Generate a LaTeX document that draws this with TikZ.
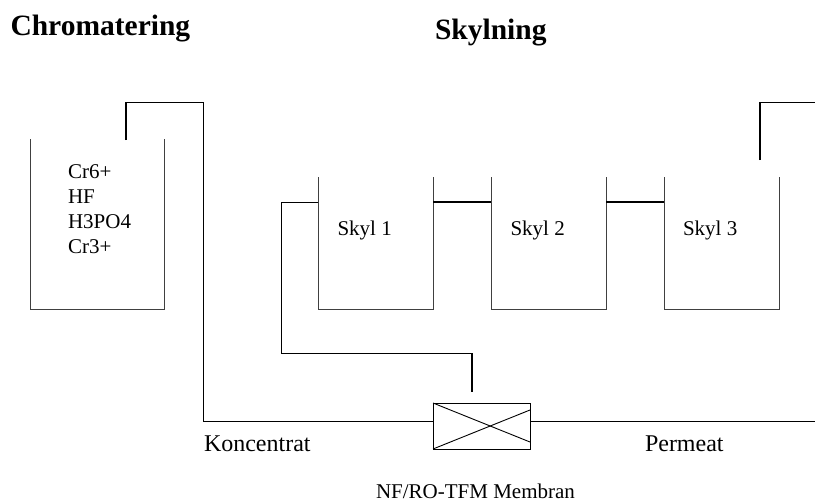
\documentclass[tikz,border=0pt]{standalone}
\usepackage{fontspec}
\setmainfont{Liberation Serif}
\tikzset{
  tank/.style={line width=0.9pt,draw=black!75},
  pipe/.style={line width=0.9pt,draw=black},
  thick pipe/.style={line width=1.5pt,draw=black},
  lbl/.style={anchor=base west,inner sep=0pt,outer sep=0pt},
  body/.style={lbl,font=\fontsize{21}{25}\selectfont},
  koncentrat/.style={lbl,font=\fontsize{24}{28}\selectfont},
  title/.style={lbl,font=\fontsize{29.5}{34}\selectfont\bfseries},
}
\begin{document}
\begin{tikzpicture}[x=1pt,y=-1pt]
\useasboundingbox (0,0) rectangle (815,501);
% tanks
\coordinate (t0tl) at (30,139); \coordinate (t0bl) at (30,309);
\coordinate (t0br) at (164,309); \coordinate (t0tr) at (164,139);
\coordinate (t1tl) at (318,177); \coordinate (t1bl) at (318,309);
\coordinate (t1br) at (433,309); \coordinate (t1tr) at (433,177);
\coordinate (t2tl) at (491,177); \coordinate (t2bl) at (491,309);
\coordinate (t2br) at (606,309); \coordinate (t2tr) at (606,177);
\coordinate (t3tl) at (664,177); \coordinate (t3bl) at (664,309);
\coordinate (t3br) at (779,309); \coordinate (t3tr) at (779,177);
\draw[tank] (t0tl) -- (t0bl) -- (t0br) -- (t0tr);
\draw[tank] (t1tl) -- (t1bl) -- (t1br) -- (t1tr);
\draw[tank] (t2tl) -- (t2bl) -- (t2br) -- (t2tr);
\draw[tank] (t3tl) -- (t3bl) -- (t3br) -- (t3tr);
% membrane
\node[draw=black,line width=0.9pt,minimum width=97pt,minimum height=46pt,inner sep=0pt,outer sep=0pt] (mem) at (481.5,426) {};
\coordinate (dA) at (530,442); \coordinate (dB) at (530,410);
\draw[pipe] (mem.north west) -- (dA);
\draw[pipe] (mem.south west) -- (dB);
% bridges
\coordinate (b1a) at (433,202); \coordinate (b1b) at (491,202);
\coordinate (b2a) at (606,202); \coordinate (b2b) at (664,202);
\draw[thick pipe] (b1a) -- (b1b);
\draw[thick pipe] (b2a) -- (b2b);
% concentrate return
\coordinate (c0) at (126,140); \coordinate (c1) at (126,102); \coordinate (c2) at (203,102);
\coordinate (c3) at (203,421.5); \coordinate (ml) at (433,421.5);
\draw[thick pipe] (c0) -- (c1);
\draw[pipe] (c1) -- (c2) -- (c3) -- (ml);
% feed to membrane
\coordinate (f0) at (318,202); \coordinate (f1) at (281,202); \coordinate (f2) at (281,353);
\coordinate (f3) at (472,353); \coordinate (f4) at (472,392);
\draw[pipe] (f0) -- (f1) -- (f2) -- (f3);
\draw[thick pipe] (f3) -- (f4);
% permeate
\coordinate (mr) at (530,421.5); \coordinate (pe) at (815,421.5);
\draw[pipe] (mr) -- (pe);
% inlet upper right
\coordinate (i0) at (760,160); \coordinate (i1) at (760,102); \coordinate (i2) at (815,102);
\draw[thick pipe] (i0) -- (i1);
\draw[pipe] (i1) -- (i2);
% texts
\node[title] (chrom) at (10.5,35) {Chromatering};
\node[title] (skyl) at (435,39) {Skylning};
\node[body] (cr6) at (68,178) {Cr6+};
\node[body] (hf) at (68,203.5) {HF};
\node[body] (h3) at (68,228.5) {H3PO4};
\node[body] (cr3) at (68,253) {Cr3+};
\node[body] (s1) at (337.5,235) {Skyl 1};
\node[body] (s2) at (510.5,235) {Skyl 2};
\node[body] (s3) at (683,235) {Skyl 3};
\node[koncentrat] (kon) at (204,451) {Koncentrat};
\node[koncentrat] (per) at (645,451) {Permeat};
\node[body] (nf) at (376,498) {NF/RO-TFM Membran};
\end{tikzpicture}
\end{document}
